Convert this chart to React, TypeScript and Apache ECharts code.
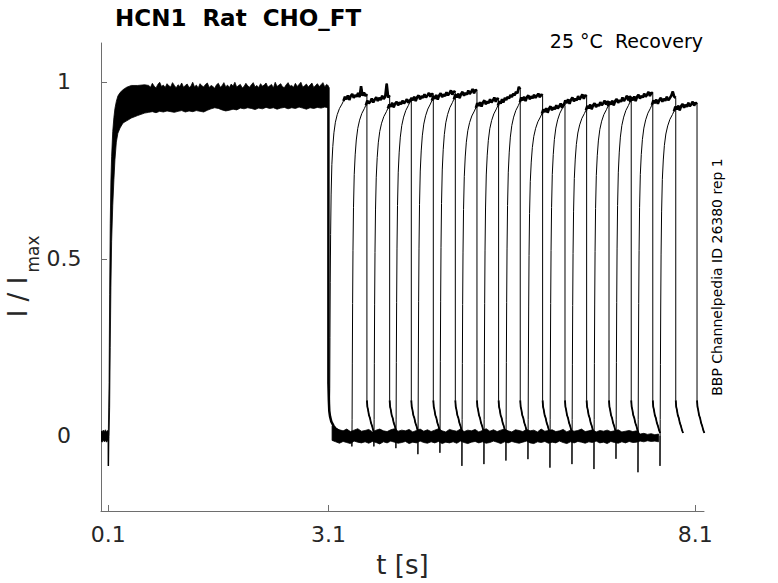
import React, { useEffect, useRef } from "react";
import * as echarts from "echarts";

const FONT = "DejaVu Sans";
const TEXT = "#262626";
const AXIS_COLOR = "#6e6e6e";

const X_TICKS = [0.1, 3.1, 8.1];
const Y_TICKS = [0, 0.5, 1];

// baseline before the first pulse (0 - 0.1 s)
const PRE_T = [0, 0.015, 0.03, 0.045, 0.06, 0.075, 0.09, 0.1];
const PRE_LOWER = [-0.014, -0.018, -0.012, -0.017, -0.013, -0.018, -0.014, -0.012];
const PRE_UPPER = [0.014, 0.01, 0.016, 0.012, 0.017, 0.011, 0.015, 0.012];

// capacitive spike at 0.1 s
const SPIKE0 = [[0.1, 0.0], [0.1, -0.085], [0.104, -0.004]];

// first (conditioning) pulse: rise envelope of the 16 overlaid sweeps
const RISE1_T = [0.1, 0.11, 0.118, 0.126, 0.135, 0.145, 0.16, 0.176, 0.19, 0.209, 0.23, 0.26, 0.3, 0.35, 0.414, 0.5, 0.595];
const RISE1_UPPER = [0.01, 0.15, 0.4, 0.6, 0.72, 0.79, 0.86, 0.9, 0.925, 0.945, 0.96, 0.97, 0.978, 0.985, 0.99, 0.99, 0.992];
const RISE1_LOWER = [-0.01, 0.0, 0.08, 0.25, 0.42, 0.55, 0.65, 0.724, 0.78, 0.83, 0.855, 0.87, 0.884, 0.89, 0.898, 0.905, 0.912];

// first pulse plateau: upper edge every 0.025 s, lower edge every 0.05 s, from 0.65 s to 3.1 s
const PLAT1_T0 = 0.65;
const PLAT1_UPPER_DT = 0.025;
const PLAT1_LOWER_DT = 0.05;
const PLAT1_UPPER = [
  0.99, 0.985, 0.996, 0.988, 0.983, 0.993, 0.999, 0.987, 0.991, 0.984,
  0.995, 0.989, 0.986, 0.998, 0.99, 0.983, 0.992, 0.987, 0.997, 0.985,
  0.99, 0.994, 0.984, 0.988, 0.999, 0.986, 0.991, 0.983, 0.995, 0.989,
  0.986, 0.993, 0.997, 0.984, 0.99, 0.987, 0.982, 0.992, 0.996, 0.985,
  0.989, 0.998, 0.986, 0.991, 0.984, 0.994, 0.988, 0.999, 0.985, 0.99,
  0.993, 0.983, 0.987, 0.996, 0.989, 0.985, 0.992, 0.998, 0.986, 0.99,
  0.984, 0.995, 0.988, 0.991, 0.997, 0.985, 0.989, 0.993, 0.983, 0.999,
  0.987, 0.991, 0.995, 0.986, 0.984, 0.992, 0.998, 0.988, 0.99, 0.985,
  0.996, 0.987, 0.993, 0.999, 0.985, 0.989, 0.994, 0.986, 0.991, 0.997,
  0.984, 0.99, 0.995, 0.987, 0.992, 0.998, 0.986, 0.993, 0.989,
];
const PLAT1_LOWER = [
  0.914, 0.916, 0.913, 0.917, 0.915, 0.918, 0.916, 0.914, 0.917, 0.919,
  0.915, 0.918, 0.916, 0.919, 0.917, 0.915, 0.92, 0.924, 0.927, 0.925,
  0.921, 0.918, 0.92, 0.923, 0.921, 0.926, 0.924, 0.927, 0.925, 0.922,
  0.926, 0.924, 0.928, 0.925, 0.927, 0.923, 0.926, 0.928, 0.924, 0.927,
  0.925, 0.929, 0.926, 0.923, 0.927, 0.925, 0.928, 0.926, 0.929, 0.927,
];

// deactivation tail right after 3.1 s (all sweeps)
const DEACT = [
  [3.1, 0.985], [3.1, 0.15], [3.106, 0.1], [3.112, 0.07], [3.122, 0.055],
  [3.14, 0.04], [3.17, 0.028], [3.2, 0.02], [3.24, 0.014],
];

// baseline envelope between pulses, every 0.05 s from 3.15 s to 7.6 s
const BAND2_T0 = 3.15;
const BAND2_DT = 0.05;
const BAND2_UPPER = [
  0.028, 0.021, 0.017, 0.014, 0.019, 0.012, 0.016, 0.02, 0.013, 0.015,
  0.018, 0.011, 0.016, 0.019, 0.014, 0.012, 0.017, 0.02, 0.013, 0.016,
  0.014, 0.018, 0.011, 0.015, 0.019, 0.013, 0.017, 0.012, 0.016, 0.02,
  0.014, 0.011, 0.018, 0.015, 0.013, 0.019, 0.012, 0.016, 0.014, 0.018,
  0.011, 0.015, 0.02, 0.013, 0.017, 0.012, 0.016, 0.019, 0.014, 0.011,
  0.017, 0.015, 0.012, 0.018, 0.014, 0.016, 0.011, 0.019, 0.013, 0.015,
  0.017, 0.012, 0.014, 0.018, 0.011, 0.016, 0.013, 0.015, 0.019, 0.012,
  0.014, 0.017, 0.011, 0.015, 0.013, 0.016, 0.012, 0.014, 0.017, 0.011,
  0.013, 0.015, 0.012, 0.014, 0.005, 0.007, 0.004, 0.006, 0.003, 0.005,
];
const BAND2_LOWER = [
  -0.013, -0.017, -0.021, -0.016, -0.019, -0.022, -0.015, -0.018, -0.02, -0.017,
  -0.021, -0.016, -0.019, -0.023, -0.017, -0.02, -0.015, -0.018, -0.021, -0.019,
  -0.016, -0.022, -0.018, -0.02, -0.015, -0.019, -0.021, -0.017, -0.02, -0.016,
  -0.022, -0.018, -0.02, -0.017, -0.021, -0.015, -0.019, -0.022, -0.018, -0.016,
  -0.02, -0.017, -0.021, -0.019, -0.015, -0.018, -0.022, -0.017, -0.02, -0.016,
  -0.019, -0.021, -0.018, -0.015, -0.02, -0.022, -0.017, -0.019, -0.016, -0.021,
  -0.018, -0.02, -0.015, -0.019, -0.022, -0.017, -0.02, -0.016, -0.018, -0.021,
  -0.017, -0.019, -0.015, -0.02, -0.018, -0.022, -0.016, -0.019, -0.021, -0.017,
  -0.02, -0.016, -0.019, -0.018, -0.015, -0.017, -0.014, -0.016, -0.015, -0.017,
];

// recovery test pulses
const STARTS = [3.115, 3.42, 3.72, 4.02, 4.32, 4.62, 4.92, 5.22, 5.52, 5.82, 6.12, 6.42, 6.72, 7.02, 7.32, 7.62];
const ENDS = [3.625, 3.935, 4.23, 4.53, 4.83, 5.125, 5.42, 5.715, 6.02, 6.325, 6.62, 6.925, 7.228, 7.522, 7.835, 8.125];
const SPIKES = [0, -0.03, -0.03, -0.035, -0.052, -0.048, -0.085, -0.08, -0.07, -0.066, -0.09, -0.08, -0.094, -0.065, -0.103, -0.085];

const RISE_DT = [0.003, 0.006, 0.01, 0.015, 0.022, 0.032, 0.045, 0.06, 0.08, 0.105, 0.135, 0.17];
const RISE_FRAC = [0.05, 0.22, 0.4, 0.56, 0.69, 0.79, 0.85, 0.895, 0.93, 0.955, 0.975, 0.99];

const TAIL_DT = [0, 0.006, 0.015, 0.028, 0.042, 0.056, 0.07, 0.085, 0.1];
const TAIL_V = [0.1, 0.082, 0.074, 0.058, 0.05, 0.036, 0.028, 0.016, 0.008];

// test-pulse plateaus (evenly spaced from 0.19 s after onset to the pulse end)
const P1 = [0.946, 0.958, 0.951, 0.962, 0.949, 0.96, 0.966, 0.955, 0.963, 0.958, 0.969, 0.957, 0.988, 0.961, 0.97, 0.96, 0.966];
const P2 = [0.934, 0.947, 0.939, 0.944, 0.953, 0.942, 0.95, 0.957, 0.946, 0.955, 0.949, 0.961, 0.952, 0.958, 0.995, 0.956, 0.962];
const P3 = [0.925, 0.936, 0.93, 0.941, 0.928, 0.939, 0.944, 0.934, 0.942, 0.937, 0.947, 0.939, 0.945, 0.951, 0.941, 0.949, 0.946];
const P4 = [0.943, 0.955, 0.948, 0.958, 0.946, 0.957, 0.962, 0.951, 0.96, 0.955, 0.965, 0.956, 0.962, 0.969, 0.958, 0.967, 0.963];
const P5 = [0.947, 0.96, 0.952, 0.963, 0.95, 0.962, 0.968, 0.957, 0.965, 0.96, 0.971, 0.962, 0.968, 0.976, 0.964, 0.974, 0.97];
const P6 = [0.951, 0.964, 0.956, 0.967, 0.954, 0.966, 0.972, 0.961, 0.969, 0.964, 0.976, 0.966, 0.972, 0.98, 0.968, 0.978, 0.974];
const P7 = [0.927, 0.94, 0.932, 0.943, 0.93, 0.942, 0.948, 0.937, 0.945, 0.94, 0.951, 0.942, 0.948, 0.956, 0.944, 0.954, 0.95];
const P8 = [0.933, 0.946, 0.939, 0.951, 0.942, 0.955, 0.949, 0.958, 0.953, 0.963, 0.957, 0.967, 0.962, 0.972, 0.968, 0.986, 0.979];
const P9 = [0.943, 0.956, 0.948, 0.958, 0.946, 0.957, 0.962, 0.951, 0.959, 0.954, 0.964, 0.955, 0.961, 0.967, 0.957, 0.965, 0.961];
const P10 = [0.91, 0.922, 0.915, 0.926, 0.913, 0.925, 0.931, 0.92, 0.928, 0.923, 0.934, 0.925, 0.931, 0.939, 0.927, 0.937, 0.933];
const P11 = [0.935, 0.948, 0.94, 0.951, 0.938, 0.95, 0.956, 0.945, 0.953, 0.948, 0.96, 0.95, 0.957, 0.965, 0.952, 0.963, 0.958];
const P12 = [0.92, 0.932, 0.925, 0.936, 0.923, 0.934, 0.94, 0.929, 0.937, 0.932, 0.943, 0.934, 0.94, 0.947, 0.936, 0.945, 0.941];
const P13 = [0.931, 0.944, 0.936, 0.947, 0.934, 0.946, 0.952, 0.941, 0.949, 0.944, 0.956, 0.946, 0.953, 0.961, 0.948, 0.959, 0.955];
const P14 = [0.943, 0.956, 0.948, 0.959, 0.946, 0.958, 0.964, 0.953, 0.961, 0.956, 0.967, 0.958, 0.964, 0.972, 0.96, 0.97, 0.966];
const P15 = [0.935, 0.948, 0.94, 0.95, 0.938, 0.949, 0.955, 0.944, 0.952, 0.947, 0.958, 0.948, 0.954, 0.961, 0.973, 0.958, 0.955];
const P16 = [0.917, 0.93, 0.922, 0.933, 0.92, 0.932, 0.938, 0.927, 0.935, 0.93, 0.941, 0.931, 0.937, 0.944, 0.933, 0.942, 0.937];
const PLATEAUS = [P1, P2, P3, P4, P5, P6, P7, P8, P9, P10, P11, P12, P13, P14, P15, P16];

// filled envelope drawn as one polygon through the axis scales
function bandSeries(upperT: number[], upper: number[], lowerT: number[], lower: number[]) {
  const up = upperT.map((t, i) => [t, upper[i]]);
  const lo = lowerT.map((t, i) => [t, lower[i]]);
  return {
    type: "custom",
    data: up,
    encode: { x: 0, y: 1 },
    silent: true,
    clip: true,
    z: 2,
    renderItem: (params: any, api: any) => {
      if (params.dataIndex !== 0) return null;
      const pts: number[][] = [];
      for (let i = 0; i < up.length; i++) pts.push(api.coord(up[i]));
      for (let i = lo.length - 1; i >= 0; i--) pts.push(api.coord(lo[i]));
      return {
        type: "polygon",
        shape: { points: pts },
        style: { fill: "#000", stroke: "#000", lineWidth: 0.8 },
      };
    },
  };
}

function plateauPoints(i: number) {
  const s = STARTS[i];
  const e = ENDS[i];
  const P = PLATEAUS[i];
  const t0 = s + 0.19;
  const n = P.length;
  return P.map((v, k) => [t0 + ((e - t0) * k) / (n - 1), v]);
}

function tailPoints(i: number) {
  const e = ENDS[i];
  return TAIL_DT.map((dt, j) => [e + dt, TAIL_V[j]]);
}

function traceData(i: number) {
  const s = STARTS[i];
  const P = PLATEAUS[i];
  const pts: number[][] = [];
  let v0 = 0;
  if (i === 0) {
    v0 = 0.09;
    pts.push([3.1, 0.15]);
    pts.push([s, v0]);
  } else {
    pts.push([s, 0]);
    pts.push([s, SPIKES[i]]);
  }
  for (let j = 0; j < RISE_DT.length; j++) {
    pts.push([s + RISE_DT[j], v0 + RISE_FRAC[j] * (P[0] - v0)]);
  }
  return pts.concat(plateauPoints(i), tailPoints(i));
}

export default function App() {
  const ref = useRef<HTMLDivElement>(null);
  useEffect(() => {
    document.body.style.margin = "0";
    if (!ref.current) return;
    const chart = echarts.init(ref.current, null, { renderer: "svg" });

    const plat1UT = PLAT1_UPPER.map((_, i) => PLAT1_T0 + PLAT1_UPPER_DT * i);
    const plat1LT = PLAT1_LOWER.map((_, i) => PLAT1_T0 + PLAT1_LOWER_DT * i);
    const band2T = BAND2_UPPER.map((_, i) => BAND2_T0 + BAND2_DT * i);

    const line = (data: number[][], width: number, z: number) => ({
      type: "line",
      data,
      symbol: "none",
      lineStyle: { color: "#000", width },
      silent: true,
      z,
    });

    const series: any[] = [
      bandSeries(PRE_T, PRE_UPPER, PRE_T, PRE_LOWER),
      bandSeries(RISE1_T.concat(plat1UT), RISE1_UPPER.concat(PLAT1_UPPER), RISE1_T.concat(plat1LT), RISE1_LOWER.concat(PLAT1_LOWER)),
      bandSeries(band2T, BAND2_UPPER, band2T, BAND2_LOWER),
      line(SPIKE0, 1.5, 3),
      line(DEACT, 2.5, 3),
      ...STARTS.map((_, i) => line(traceData(i), 1, 4)),
      ...STARTS.map((_, i) => line(plateauPoints(i), 2.6, 5)),
      ...STARTS.map((_, i) => line(tailPoints(i), 1.8, 5)),
    ];

    const option: any = {
      animation: false,
      grid: { left: 101, right: 74, top: 43, bottom: 71, containLabel: false },
      xAxis: {
        type: "value",
        min: 0,
        max: 8.22,
        axisLine: { show: true, onZero: false, lineStyle: { color: AXIS_COLOR, width: 1 } },
        axisTick: { show: true, inside: true, length: 6, customValues: X_TICKS, lineStyle: { color: AXIS_COLOR } },
        axisLabel: {
          customValues: X_TICKS,
          formatter: (v: number) => v.toFixed(1),
          fontSize: 22,
          color: TEXT,
          fontFamily: FONT,
          margin: 12,
        },
        splitLine: { show: false },
        name: "t [s]",
        nameLocation: "middle",
        nameGap: 41,
        nameTextStyle: { fontSize: 26, color: TEXT, fontFamily: FONT },
      },
      yAxis: {
        type: "value",
        min: -0.2125,
        max: 1.11,
        axisLine: { show: true, onZero: false, lineStyle: { color: AXIS_COLOR, width: 1 } },
        axisTick: { show: true, inside: true, length: 6, customValues: Y_TICKS, lineStyle: { color: AXIS_COLOR } },
        axisLabel: {
          customValues: Y_TICKS,
          formatter: (v: number) => String(v),
          fontSize: 22,
          color: TEXT,
          fontFamily: FONT,
          align: "center",
          margin: 37,
        },
        splitLine: { show: false },
      },
      graphic: [
        {
          type: "text",
          left: 115,
          top: 6,
          style: { text: "HCN1  Rat  CHO_FT", fontSize: 23, fontWeight: "bold", fill: "#000", fontFamily: FONT },
        },
        {
          type: "text",
          x: 703,
          y: 41,
          style: {
            text: "25 °C  Recovery",
            fontSize: 19,
            fill: "#000",
            fontFamily: FONT,
            align: "right",
            verticalAlign: "middle",
          },
        },
        {
          type: "text",
          x: 717,
          y: 277,
          rotation: Math.PI / 2,
          style: {
            text: "BBP Channelpedia ID 26380 rep 1",
            fontSize: 14,
            fill: "#000",
            fontFamily: FONT,
            align: "center",
            verticalAlign: "middle",
          },
        },
        {
          type: "text",
          x: 18,
          y: 297,
          rotation: Math.PI / 2,
          style: {
            text: "I / I",
            fontSize: 26,
            fill: TEXT,
            fontFamily: FONT,
            align: "center",
            verticalAlign: "middle",
          },
        },
        {
          type: "text",
          x: 33,
          y: 254,
          rotation: Math.PI / 2,
          style: {
            text: "max",
            fontSize: 17,
            fill: TEXT,
            fontFamily: FONT,
            align: "center",
            verticalAlign: "middle",
          },
        },
      ],
      series,
    };
    chart.setOption(option);
    return () => chart.dispose();
  }, []);
  return <div ref={ref} style={{ width: 778, height: 583 }} />;
}
